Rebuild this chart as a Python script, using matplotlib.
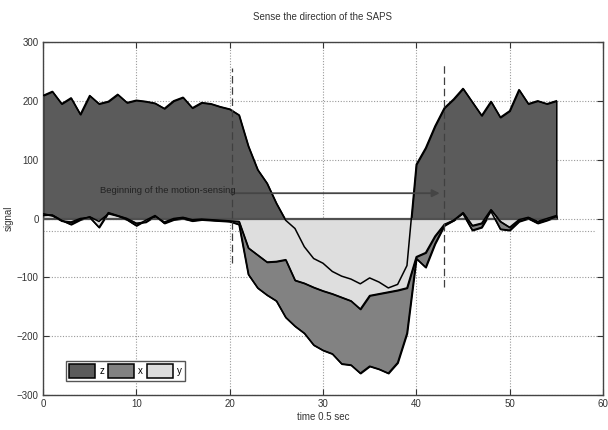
import numpy as np
import matplotlib
matplotlib.use('Agg')
import matplotlib.pyplot as plt

# время (шаг 0.5 с), сигналы трёх осей
t = list(range(0, 56))
z = [209, 216, 195, 205, 177, 209, 195, 199, 211, 197,
     201, 199, 196, 187, 200, 206, 188, 197, 195, 190,
     186, 176, 123, 83, 60, 26, -3, -17, -48, -68,
     -76, -90, -98, -103, -111, -101, -108, -118, -112, -80,
     92, 120, 157, 188, 203, 221, 198, 175, 199, 172,
     183, 219, 195, 200, 195, 200]
x = [5, 6, -3, -10, -2, 3, -5, 8, 4, -2,
     -12, -3, 5, -8, -2, 0, -4, -2, -3, -4,
     -5, -10, -95, -118, -130, -140, -168, -183, -195, -215,
     -224, -230, -247, -249, -263, -251, -256, -263, -245, -195,
     -68, -83, -43, -12, -3, 8, -20, -15, 12, -18,
     -20, -5, 0, -8, -3, 3]
y = [8, 5, -4, -6, 0, 2, -15, 10, 5, 0,
     -8, -6, 4, -6, 0, 2, -2, -1, -2, -3,
     -4, -5, -50, -62, -74, -73, -70, -105, -110, -117,
     -123, -128, -134, -140, -154, -131, -128, -125, -122, -118,
     -65, -58, -30, -10, -3, 10, -12, -8, 15, -5,
     -15, -2, 2, -5, 0, 5]

marks = [20.2, 43.0]          # вертикальные пунктирные линии
marks_span = [(-76, 256), (-116, 265)]
legend_names = ['z', 'x', 'y']

plt.rcParams['font.family'] = ['Liberation Sans', 'DejaVu Sans']

fig = plt.figure(figsize=(6.08, 4.30), dpi=100)
ax = fig.add_axes([0.0707, 0.0814, 0.921, 0.8209])

# сетка
ax.grid(True, color='#9a9a9a', linestyle=(0, (1, 1.5)), linewidth=0.8, zorder=0)
ax.axhline(-21, xmax=0.985, color='#9a9a9a', linestyle=(0, (1, 1.5)), linewidth=0.8, zorder=0)

cols = ['#5b5b5b', '#828282', '#dedede']
for s, c, name in zip([z, x, y], cols, legend_names):
    ax.fill_between(t, 0, s, facecolor=c, edgecolor='k', linewidth=1.1, label=name, zorder=2)

ax.plot([0, 55], [0, 0], color='#505050', linewidth=1.6, zorder=3)
for s in [z, x, y]:
    ax.plot(t, s, color='k', linewidth=1.1, zorder=4)

for m, (lo, hi) in zip(marks, marks_span):
    ax.plot([m, m], [lo, hi], color='#404040', linestyle=(0, (6, 3)), linewidth=0.9, zorder=5)

ax.annotate('', xy=(42.8, 43), xytext=(19.8, 43),
            arrowprops=dict(arrowstyle='-|>', color='#454545', lw=1.3, mutation_scale=11), zorder=6)
ax.text(6.1, 47, 'Beginning of the motion-sensing', fontsize=6.8, color='#222222',
        va='center', ha='left', zorder=6)

ax.set_xlim(0, 60)
ax.set_ylim(-300, 300)
ax.set_xticks(range(0, 61, 10))
ax.set_yticks(range(-300, 301, 100))
ax.tick_params(direction='in', top=True, right=True, length=4, labelsize=7, colors='#333333', pad=3)
for sp in ax.spines.values():
    sp.set_color('#444444')
    sp.set_linewidth(1.0)

ax.set_title('Sense the direction of the SAPS', fontsize=7, color='#333333', pad=16)
ax.set_xlabel('time 0.5 sec', fontsize=7, color='#333333', labelpad=2)
ax.set_ylabel('signal', fontsize=7, color='#333333')
ax.yaxis.set_label_coords(-0.052, 0.5)

leg = ax.legend(loc='lower left', bbox_to_anchor=(0.032, 0.026), ncol=3, fontsize=7,
                handlelength=2.7, handleheight=1.7, handletextpad=0.4, columnspacing=0.4,
                fancybox=False, framealpha=1, edgecolor='#555555', borderpad=0.35)
leg.get_frame().set_linewidth(1.0)

plt.savefig('out.png', dpi=100)
